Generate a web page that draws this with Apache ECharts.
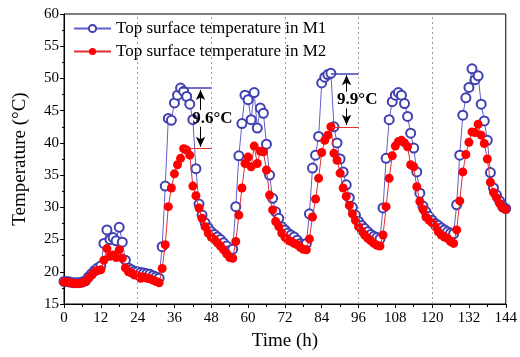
<!DOCTYPE html>
<html>
<head>
<meta charset="utf-8">
<script src="https://cdn.jsdelivr.net/npm/echarts@6/dist/echarts.min.js"></script>
<style>
  html, body { margin: 0; padding: 0; background: #fff; }
  #chart-container { width: 520px; height: 357px; }
</style>
</head>
<body>
<div id="chart-container"></div>
<script>
// hourly readings, index = hour (0..144)
const topM1 = [
  18.5, 18.5, 18.4, 18.3, 18.3, 18.3, 18.4, 18.6, 19.2, 19.7, 20.2, 20.6,
  20.9, 24.4, 26.5, 25.0, 25.3, 24.8, 26.9, 24.6, 21.8, 20.6, 20.3, 20.1,
  20.0, 19.9, 19.8, 19.7, 19.6, 19.4, 19.2, 19.0, 23.9, 33.3, 43.8, 43.5,
  46.2, 47.4, 48.5, 48.0, 47.2, 46.0, 43.6, 36.0, 30.5, 28.8, 27.6, 26.8,
  26.2, 25.8, 25.4, 25.0, 24.5, 24.0, 23.3, 23.5, 30.1, 38.0, 43.0, 47.4,
  46.7, 43.6, 47.8, 42.3, 45.4, 44.6, 39.8, 35.0, 31.4, 29.3, 28.3, 27.0,
  26.5, 26.0, 25.7, 25.4, 24.9, 24.4, 24.2, 24.4, 29.0, 36.1, 38.1, 41.0,
  49.3, 50.2, 50.6, 50.8, 42.5, 40.0, 37.5, 35.5, 33.5, 31.5, 30.0, 28.8,
  27.8, 27.2, 26.7, 26.2, 25.8, 25.5, 25.3, 25.1, 29.9, 37.6, 43.6, 46.4,
  47.4, 47.8, 47.4, 46.1, 44.1, 41.5, 39.2, 35.5, 32.2, 30.2, 29.3, 28.6,
  28.0, 27.5, 27.2, 26.8, 26.5, 26.2, 26.0, 25.9, 30.4, 38.1, 44.3, 47.0,
  48.6, 51.5, 49.8, 50.4, 46.0, 43.4, 40.4, 35.4, 33.0, 31.9, 31.0, 30.1,
  29.8
];
const topM2 = [
  18.4, 18.4, 18.3, 18.2, 18.2, 18.2, 18.3, 18.5, 19.0, 19.5, 20.0, 20.2,
  20.3, 21.8, 23.6, 22.4, 22.6, 22.2, 23.4, 22.1, 20.6, 20.0, 19.8, 19.5,
  19.4, 19.0, 19.2, 19.0, 18.9, 18.7, 18.5, 18.3, 20.5, 24.2, 30.1, 33.0,
  35.2, 36.6, 37.6, 39.1, 38.9, 38.1, 33.3, 31.8, 29.9, 28.3, 27.0, 26.0,
  25.4, 25.0, 24.5, 24.0, 23.4, 22.8, 22.2, 22.1, 24.7, 28.8, 33.0, 36.8,
  37.8, 36.3, 39.5, 36.8, 38.7, 38.6, 35.8, 31.9, 29.6, 27.8, 27.0, 26.0,
  25.4, 24.9, 24.7, 24.4, 24.2, 23.8, 23.5, 23.4, 25.1, 28.5, 31.3, 34.5,
  38.5, 40.4, 41.2, 42.5, 38.4, 37.3, 35.3, 33.0, 31.7, 30.3, 29.0, 28.0,
  27.0, 26.3, 25.7, 25.2, 24.8, 24.4, 24.1, 24.0, 25.7, 30.1, 34.5, 38.0,
  39.5, 40.2, 40.4, 40.0, 39.4, 36.6, 36.3, 33.2, 30.9, 29.7, 28.5, 28.0,
  27.6, 27.0, 26.2, 25.7, 25.4, 25.2, 24.7, 24.4, 26.5, 31.0, 35.5, 38.2,
  40.1, 41.7, 41.6, 42.9, 41.2, 39.9, 37.5, 33.9, 32.3, 31.5, 30.6, 29.9,
  29.7
];
const dayLines = [24, 48, 72, 96, 120];
// peak hours of M1 / M2, where the guide lines stop, and the label
const gaps = [
  { m1At: 38, m2At: 39, end: 48, label: "9.6°C", textX: 48.4, arrowX: 44.5 },
  { m1At: 87, m2At: 87, end: 96, label: "9.9°C", textX: 95.6, arrowX: 92.1 }
];

const serif = "Liberation Serif";
const blue = "#4040b0";
const red = "#ff0000";

const toPairs = (arr) => arr.map((v, i) => [i, v]);

const gapLines = [];
const gapArrows = [];
const gapTexts = [];
gaps.forEach((g) => {
  const hi = topM1[g.m1At];
  const lo = topM2[g.m2At];
  const mid = (hi + lo) / 2;
  gapLines.push([
    { coord: [g.m1At, hi], lineStyle: { color: blue, width: 1.5, type: "solid" } },
    { coord: [g.end, hi] }
  ]);
  gapLines.push([
    { coord: [g.m2At, lo], lineStyle: { color: "#e03030", width: 1, type: "solid" } },
    { coord: [g.end, lo] }
  ]);
  gapArrows.push([
    { coord: [g.arrowX, mid + 1.3], lineStyle: { color: "#000", width: 1, type: "solid" } },
    { coord: [g.arrowX, hi - 0.3] }
  ]);
  gapArrows.push([
    { coord: [g.arrowX, mid - 1.3], lineStyle: { color: "#000", width: 1, type: "solid" } },
    { coord: [g.arrowX, lo + 0.3] }
  ]);
  gapTexts.push({ coord: [g.textX, mid], value: g.label });
});

const option = {
  animation: false,
  grid: { left: 64, right: 13, top: 14, bottom: 53, show: true, borderColor: "#000", borderWidth: 1 },
  legend: {
    orient: "vertical",
    left: 68,
    top: 15,
    itemWidth: 37,
    itemHeight: 9,
    itemGap: 6,
    textStyle: { fontFamily: serif, fontSize: 17, color: "#000" },
    data: ["Top surface temperature in M1", "Top surface temperature in M2"]
  },
  xAxis: {
    type: "value",
    min: 0,
    max: 144,
    interval: 12,
    name: "Time (h)",
    nameLocation: "middle",
    nameGap: 28,
    nameTextStyle: { fontFamily: serif, fontSize: 19, color: "#000" },
    axisLine: { lineStyle: { color: "#000", width: 1 } },
    axisTick: { length: 4, lineStyle: { color: "#000" } },
    minorTick: { show: true, splitNumber: 2, length: 3, lineStyle: { color: "#000" } },
    axisLabel: { fontFamily: serif, fontSize: 15, color: "#000", margin: 7 },
    splitLine: { show: false }
  },
  yAxis: {
    type: "value",
    min: 15,
    max: 60,
    interval: 5,
    name: "Temperature (°C)",
    nameLocation: "middle",
    nameGap: 34,
    nameTextStyle: { fontFamily: serif, fontSize: 19, color: "#000" },
    axisLine: { show: true, lineStyle: { color: "#000", width: 1 } },
    axisTick: { show: true, length: 4, lineStyle: { color: "#000" } },
    minorTick: { show: true, splitNumber: 2, length: 2, lineStyle: { color: "#000" } },
    axisLabel: { fontFamily: serif, fontSize: 15, color: "#000", margin: 5 },
    splitLine: { show: false }
  },
  series: [
    {
      name: "Top surface temperature in M1",
      type: "line",
      data: toPairs(topM1),
      symbol: "emptyCircle",
      symbolSize: 9,
      showAllSymbol: true,
      lineStyle: { color: "#6060cc", width: 1 },
      itemStyle: { color: blue, borderColor: blue, borderWidth: 1 },
      z: 2,
      markLine: {
        silent: true,
        symbol: "none",
        label: { show: false },
        lineStyle: { color: "#999", type: [2, 3], width: 1 },
        data: dayLines.map((h) => ({ xAxis: h }))
      }
    },
    {
      name: "Top surface temperature in M2",
      type: "line",
      data: toPairs(topM2),
      symbol: "circle",
      symbolSize: 9,
      showAllSymbol: true,
      lineStyle: { color: "#e03030", width: 1 },
      itemStyle: { color: red },
      z: 3,
      markLine: {
        silent: true,
        symbol: "none",
        label: { show: false },
        lineStyle: { type: "solid" },
        data: gapLines
      }
    },
    {
      name: "gap",
      type: "line",
      data: [],
      markLine: {
        silent: true,
        symbol: ["none", "arrow"],
        symbolSize: [7, 10],
        label: { show: false },
        lineStyle: { color: "#000", type: "solid", width: 1 },
        data: gapArrows
      },
      markPoint: {
        silent: true,
        symbol: "circle",
        symbolSize: 1,
        itemStyle: { color: "rgba(0,0,0,0)" },
        label: {
          show: true,
          position: "inside",
          formatter: (p) => p.value,
          fontFamily: serif,
          fontSize: 17,
          fontWeight: "bold",
          color: "#000"
        },
        data: gapTexts
      }
    }
  ]
};

const myChart = echarts.init(document.getElementById("chart-container"), null, { renderer: "canvas" });
myChart.setOption(option);
</script>
</body>
</html>
